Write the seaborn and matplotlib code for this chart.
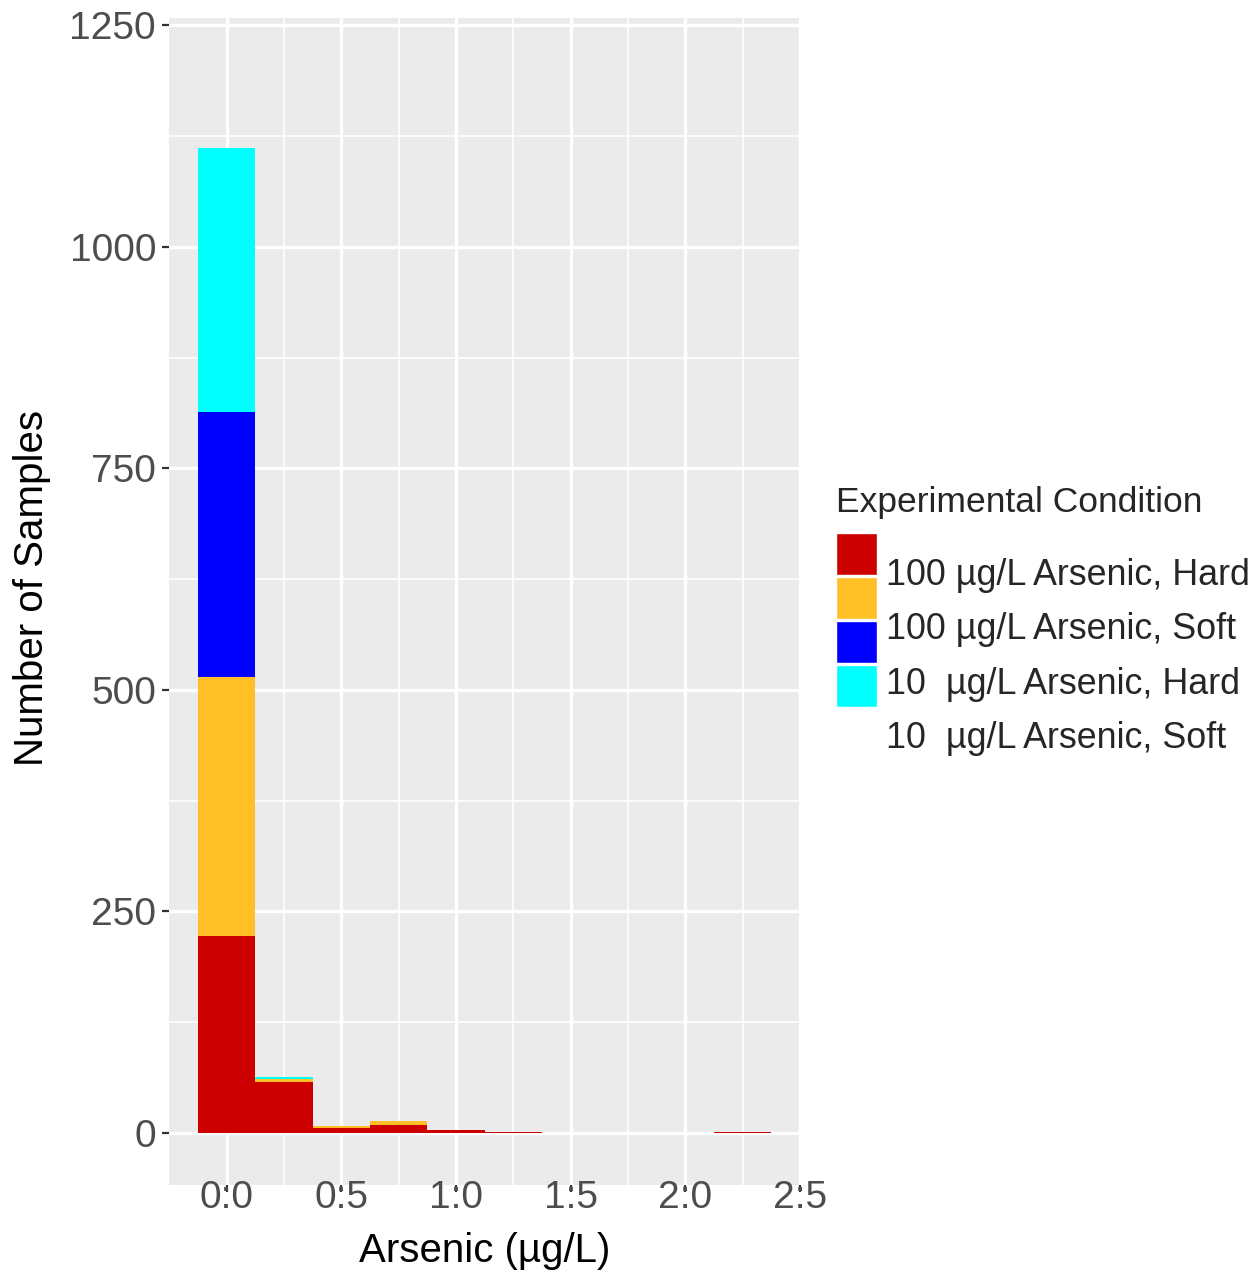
import pandas as pd
import matplotlib.pyplot as plt
import seaborn as sns
from matplotlib.patches import Rectangle

# bin centres (binwidth 0.25) and stacked counts per condition
bin_centres = [0.0, 0.25, 0.5, 0.75, 1.0, 1.25, 1.5, 1.75, 2.0, 2.25]
hard_100 = [222, 58, 6, 9, 3, 1, 0, 0, 0, 1]
soft_100 = [292, 3, 2, 4, 0, 0, 0, 0, 0, 0]
soft_100_blue = [300, 0, 0, 0, 0, 0, 0, 0, 0, 0]
hard_10 = [298, 2, 0, 0, 0, 0, 0, 0, 0, 0]
soft_10 = [0, 0, 0, 0, 0, 0, 0, 0, 0, 0]

conditions = ["100 \u00b5g/L Arsenic, Hard", "100 \u00b5g/L Arsenic, Soft",
              "10  \u00b5g/L Arsenic, Hard", "10  \u00b5g/L Arsenic, Soft"]
# five fill levels, legend keys shifted against the labels as in the original
levels = ["A", "B", "C", "D", "E"]
colors = {"A": "#CC0000", "B": "#FFBF26", "C": "#0000FF", "D": "#00FFFF", "E": "#FFFFFF"}
series = [hard_100, soft_100, soft_100_blue, hard_10, soft_10]

xticks = [0.0, 0.5, 1.0, 1.5, 2.0, 2.5]
xticklabels = ["0:0", "0:5", "1:0", "1:5", "2:0", "2:5"]
yticks = [0, 250, 500, 750, 1000, 1250]

rows = []
for lev, vals in zip(levels, series):
    for c, v in zip(bin_centres, vals):
        rows.append({"x": c, "n": v, "cond": lev})
df = pd.DataFrame(rows)

sns.set_theme(style="darkgrid")
plt.rcParams['font.family'] = ['Liberation Sans', 'DejaVu Sans']

fig = plt.figure(figsize=(12.54, 12.71), dpi=100)
ax = fig.add_axes([0.135, 0.0677, 0.503, 0.918])
ax.set_facecolor("#EBEBEB")

sns.histplot(data=df, x="x", weights="n", hue="cond", hue_order=levels[::-1],
             palette=colors, multiple="stack", binwidth=0.25, binrange=(-0.125, 2.375),
             element="bars", linewidth=0, alpha=1, legend=False, ax=ax)

ax.set_xlim(-0.25, 2.5)
ax.set_ylim(-58.7, 1258)
ax.set_xticks(xticks)
ax.set_xticklabels(xticklabels)
ax.set_yticks(yticks)
ax.set_xticks([0.25, 0.75, 1.25, 1.75, 2.25], minor=True)
ax.set_yticks([125, 375, 625, 875, 1125], minor=True)
ax.grid(which="major", color="white", linewidth=2.4)
ax.grid(which="minor", color="white", linewidth=1.2)
ax.set_axisbelow(True)
for s in ax.spines.values():
    s.set_visible(False)
ax.tick_params(axis="y", which="major", left=True, labelsize=28, labelcolor="#4D4D4D",
               color="#333333", length=5, width=1.6, pad=4.5)
ax.tick_params(axis="x", which="major", bottom=True, labelsize=28, labelcolor="#4D4D4D",
               color="#333333", length=5, width=1.6, pad=-8.5)
ax.tick_params(axis="both", which="minor", length=0)
ax.set_xlabel("Arsenic (\u00b5g/L)", fontsize=29, color="black")
ax.set_ylabel("Number of Samples", fontsize=29, color="black")
ax.xaxis.set_label_coords(0.5, -0.040)
ax.yaxis.set_label_coords(-0.188, 0.512)

# legend drawn by hand to keep the offset keys of the original
W, H = 1254, 1271
fig.text(836 / W, 1 - 502 / H, "Experimental Condition", fontsize=25.5, va="center", ha="left")
key_tops = [533, 577, 621, 665, 709]
for lev, top in zip(levels, key_tops):
    fig.add_artist(Rectangle((836 / W, 1 - (top + 42) / H), 41 / W, 42 / H,
                             transform=fig.transFigure, facecolor=colors[lev],
                             edgecolor="white", linewidth=1))
label_y = [576, 630, 684, 739]
for lab, yy in zip(conditions, label_y):
    fig.text(886 / W, 1 - yy / H, lab, fontsize=25.8, va="center", ha="left")

fig.savefig("out.png", dpi=100)
